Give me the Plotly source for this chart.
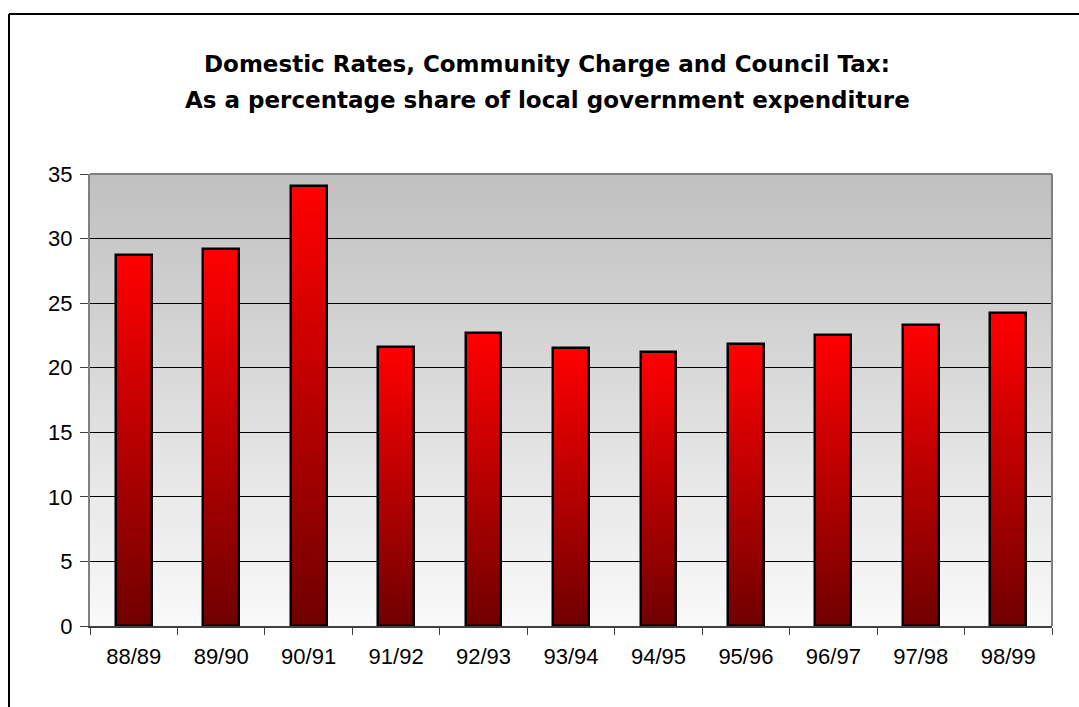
import plotly.graph_objects as go

categories = ["88/89", "89/90", "90/91", "91/92", "92/93", "93/94",
              "94/95", "95/96", "96/97", "97/98", "98/99"]
values = [28.7, 29.2, 34.1, 21.6, 22.7, 21.5, 21.2, 21.8, 22.5, 23.3, 24.2]
y_ticks = [0, 5, 10, 15, 20, 25, 30, 35]
title_lines = ["Domestic Rates, Community Charge and Council Tax:",
               "As a percentage share of local government expenditure"]

W, H = 1079, 707
L, R, T, B = 90, 27, 174, 81
BAR_W = 0.41
N_SEG = 48
pw, ph = W - L - R, H - T - B


def px_x(px):
    return (px - L) / pw


def px_y(py):
    return (H - B - py) / ph


def lerp(a, b, t):
    return a + (b - a) * t


fig = go.Figure()

# gradient-filled bars: each bar split into stacked slices (dark bottom -> bright red top)
for k in range(N_SEG):
    t = (k + 0.5) / N_SEG
    r = int(round(lerp(0x70, 0xFF, t)))
    fig.add_trace(go.Bar(
        x=categories,
        y=[v / N_SEG * 1.03 if k < N_SEG - 1 else v / N_SEG for v in values],
        base=[v * k / N_SEG for v in values],
        width=BAR_W,
        marker=dict(color=f"rgb({r},0,0)", line=dict(width=0)),
        hoverinfo="skip",
        showlegend=False,
    ))

# outline of each bar
fig.add_trace(go.Bar(
    x=categories,
    y=values,
    width=BAR_W,
    marker=dict(color="rgba(0,0,0,0)", line=dict(color="black", width=2.5)),
    showlegend=False,
))

# plot area gradient background (gray top -> near white bottom)
shapes = []
NB = 60
for i in range(NB):
    t = i / (NB - 1)
    g = int(round(lerp(0xF9, 0xC0, t)))
    shapes.append(dict(type="rect", xref="x domain", yref="y domain",
                       x0=0, x1=1, y0=i / NB, y1=(i + 1) / NB + 0.002,
                       fillcolor=f"rgb({g},{g},{g})", line=dict(width=0),
                       layer="below"))
# plot area border (top and right)
shapes.append(dict(type="line", xref="x domain", yref="y domain",
                   x0=0, x1=1, y0=1, y1=1, line=dict(color="#808080", width=2)))
shapes.append(dict(type="line", xref="x domain", yref="y domain",
                   x0=1, x1=1, y0=0, y1=1, line=dict(color="#808080", width=2)))
# outer chart frame (left & top visible)
fx, fy = px_x(9), px_y(14)
shapes.append(dict(type="line", xref="paper", yref="paper",
                   x0=fx, x1=fx, y0=fy, y1=-0.3, line=dict(color="black", width=2)))
shapes.append(dict(type="line", xref="paper", yref="paper",
                   x0=fx, x1=1.1, y0=fy, y1=fy, line=dict(color="black", width=2)))

title_font = dict(family="DejaVu Sans, Liberation Sans, Arial, sans-serif",
                  size=23, color="black", weight="bold")
annotations = [
    dict(text=title_lines[0], xref="paper", yref="paper", x=px_x(547), y=px_y(64),
         xanchor="center", yanchor="middle", showarrow=False, font=title_font),
    dict(text=title_lines[1], xref="paper", yref="paper", x=px_x(547), y=px_y(100),
         xanchor="center", yanchor="middle", showarrow=False, font=title_font),
]

fig.update_layout(
    width=W, height=H,
    margin=dict(l=L, r=R, t=T, b=B, autoexpand=False),
    paper_bgcolor="white",
    plot_bgcolor="white",
    barmode="overlay",
    bargap=0,
    font=dict(family="Liberation Sans, Arial, sans-serif", size=22, color="black"),
    shapes=shapes,
    annotations=annotations,
    xaxis=dict(type="category", categoryorder="array", categoryarray=categories,
               showgrid=False, showline=True, linecolor="#404040", linewidth=2,
               ticks="outside", tickson="boundaries", ticklen=7,
               tickcolor="#404040", tickwidth=1,
               tickfont=dict(size=22), ticklabelstandoff=10),
    yaxis=dict(range=[0, 35], tickvals=y_ticks, showgrid=True,
               gridcolor="black", gridwidth=1, zeroline=False,
               showline=True, linecolor="#808080", linewidth=2,
               ticks="outside", ticklen=8, tickcolor="#404040", tickwidth=1,
               tickfont=dict(size=22), ticklabelstandoff=3),
)

fig.write_html("out.html", config={"displayModeBar": False},
               post_script="document.body.style.margin='0';document.body.style.overflow='hidden';")
